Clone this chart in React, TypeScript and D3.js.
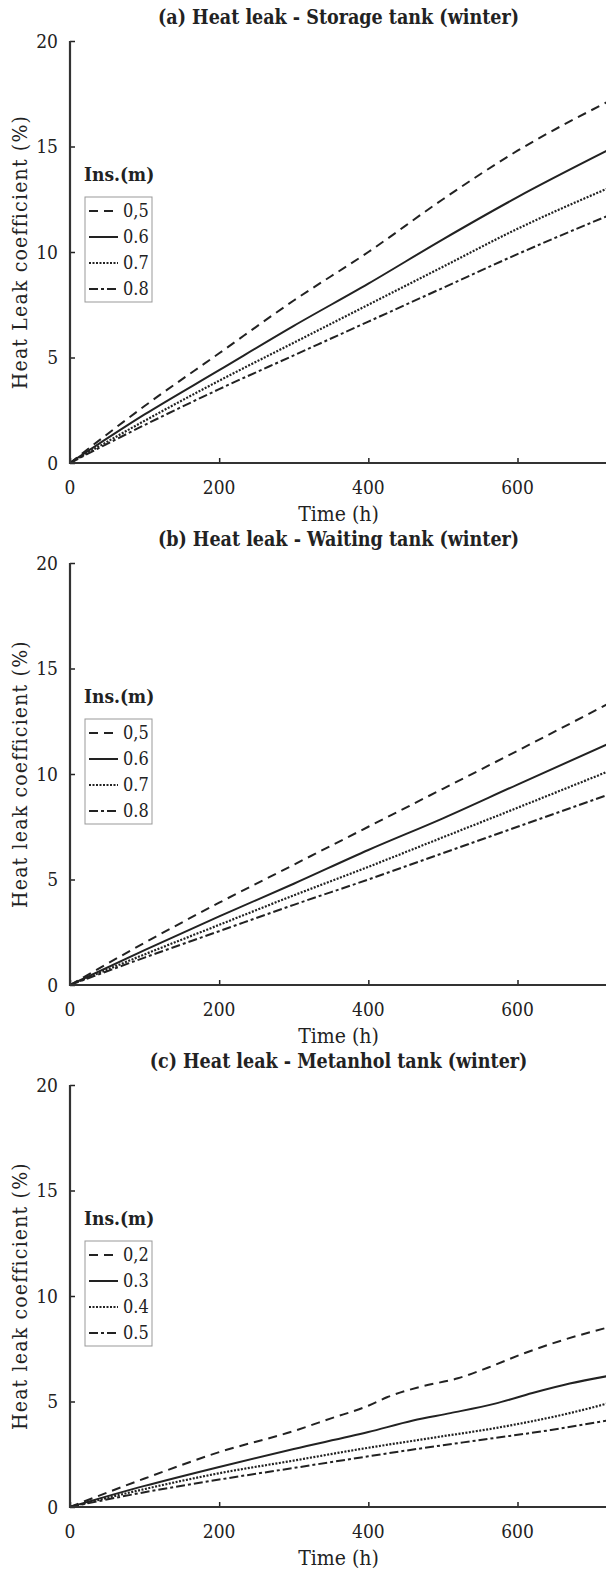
import { useEffect, useRef } from 'react';
import * as d3 from 'd3';

// ---- data ----
const xTicks = [0, 200, 400, 600];
const yTicks = [0, 5, 10, 15, 20];

const titles = [
  '(a) Heat leak - Storage tank (winter)',
  '(b) Heat leak - Waiting tank (winter)',
  '(c) Heat leak - Metanhol tank (winter)',
];
const yLabels = [
  'Heat Leak coefficient (%)',
  'Heat leak coefficient (%)',
  'Heat leak coefficient (%)',
];
const legendLabelsAB = ['0,5', '0.6', '0.7', '0.8'];
const legendLabelsC = ['0,2', '0.3', '0.4', '0.5'];

// panel (a) and (b): hours
const timeAB = [0, 100, 200, 300, 400, 500, 600, 720];
const storage05 = [0, 2.7, 5.2, 7.7, 10.0, 12.5, 14.8, 17.1];
const storage06 = [0, 2.3, 4.4, 6.5, 8.5, 10.6, 12.6, 14.8];
const storage07 = [0, 2.0, 3.9, 5.7, 7.5, 9.3, 11.1, 13.0];
const storage08 = [0, 1.8, 3.5, 5.1, 6.7, 8.3, 9.9, 11.7];

const waiting05 = [0, 2.0, 3.9, 5.7, 7.5, 9.3, 11.1, 13.3];
const waiting06 = [0, 1.65, 3.25, 4.8, 6.4, 7.9, 9.5, 11.4];
const waiting07 = [0, 1.45, 2.85, 4.25, 5.6, 7.0, 8.4, 10.1];
const waiting08 = [0, 1.3, 2.55, 3.8, 5.0, 6.25, 7.5, 9.0];

// panel (c)
const methT02 = [0, 100, 200, 300, 350, 400, 425, 470, 520, 560, 610, 660, 720];
const meth02 = [0, 1.35, 2.6, 3.6, 4.2, 4.8, 5.2, 5.7, 6.1, 6.6, 7.3, 7.9, 8.5];
const methT03 = [0, 100, 200, 300, 400, 460, 510, 570, 620, 670, 720];
const meth03 = [0, 1.0, 1.9, 2.75, 3.55, 4.1, 4.45, 4.9, 5.4, 5.85, 6.2];
const methT04 = [0, 100, 200, 300, 390, 490, 580, 670, 720];
const meth04 = [0, 0.85, 1.6, 2.2, 2.75, 3.3, 3.8, 4.45, 4.9];
const methT05 = [0, 100, 200, 300, 400, 465, 555, 645, 720];
const meth05 = [0, 0.7, 1.3, 1.85, 2.4, 2.75, 3.2, 3.65, 4.1];

const dashes = ['9,6', null, '2,1.5', '9,3,3,3'];

export default function App() {
  const svgRef = useRef(null);

  useEffect(() => {
    const svg = d3.select(svgRef.current);
    svg.selectAll('*').remove();

    const W = 606, H = 1570;
    svg.attr('width', W).attr('height', H);

    const left = 70, right = 607;
    const panelTop = [41, 563, 1085];
    const plotH = 422;
    const ink = '#222';
    const font = "'DejaVu Serif Condensed', 'DejaVu Serif', serif";

    const panels = [
      {
        legend: legendLabelsAB,
        series: [
          { t: timeAB, v: storage05 },
          { t: timeAB, v: storage06 },
          { t: timeAB, v: storage07 },
          { t: timeAB, v: storage08 },
        ],
      },
      {
        legend: legendLabelsAB,
        series: [
          { t: timeAB, v: waiting05 },
          { t: timeAB, v: waiting06 },
          { t: timeAB, v: waiting07 },
          { t: timeAB, v: waiting08 },
        ],
      },
      {
        legend: legendLabelsC,
        series: [
          { t: methT02, v: meth02 },
          { t: methT03, v: meth03 },
          { t: methT04, v: meth04 },
          { t: methT05, v: meth05 },
        ],
      },
    ];

    panels.forEach((p, i) => {
      const top = panelTop[i];
      const bottom = top + plotH;
      const x = d3.scaleLinear().domain([0, 720]).range([left, right]);
      const y = d3.scaleLinear().domain([0, 20]).range([bottom, top]);
      const g = svg.append('g');

      // title
      g.append('text')
        .attr('x', (left + right) / 2)
        .attr('y', top - 17)
        .attr('text-anchor', 'middle')
        .attr('font-family', font)
        .attr('font-weight', 'bold')
        .attr('font-size', 19.5)
        .attr('fill', ink)
        .text(titles[i]);

      // lines
      const line = d3.line()
        .x(d => x(d[0]))
        .y(d => y(d[1]))
        .curve(d3.curveMonotoneX);

      p.series.forEach((s, k) => {
        const pts = s.t.map((t, j) => [t, s.v[j]]);
        const path = g.append('path')
          .datum(pts)
          .attr('fill', 'none')
          .attr('stroke', ink)
          .attr('stroke-width', k === 2 ? 2.2 : 2)
          .attr('d', line);
        if (dashes[k]) path.attr('stroke-dasharray', dashes[k]);
      });

      // axes
      const yAxis = g.append('g')
        .attr('transform', `translate(${left},0)`)
        .call(d3.axisRight(y).tickValues(yTicks).tickSize(5).tickFormat(() => ''));
      yAxis.select('.domain').remove();
      yAxis.selectAll('line').attr('stroke', ink).attr('stroke-width', 1.5);

      const xAxis = g.append('g')
        .attr('transform', `translate(0,${bottom})`)
        .call(d3.axisTop(x).tickValues(xTicks).tickSize(5).tickFormat(() => ''));
      xAxis.select('.domain').remove();
      xAxis.selectAll('line').attr('stroke', ink).attr('stroke-width', 1.5);

      g.append('path')
        .attr('d', `M${left},${top}V${bottom}H${W}`)
        .attr('fill', 'none')
        .attr('stroke', '#333')
        .attr('stroke-width', 2.2);

      // tick labels
      yTicks.forEach(v => {
        g.append('text')
          .attr('x', left - 12)
          .attr('y', y(v))
          .attr('dy', '0.35em')
          .attr('text-anchor', 'end')
          .attr('font-family', font)
          .attr('font-size', 19)
          .attr('fill', ink)
          .text(v);
      });
      xTicks.forEach(v => {
        g.append('text')
          .attr('x', x(v))
          .attr('y', bottom + 24)
          .attr('dy', '0.35em')
          .attr('text-anchor', 'middle')
          .attr('font-family', font)
          .attr('font-size', 19)
          .attr('fill', ink)
          .text(v);
      });

      g.append('text')
        .attr('x', (left + right) / 2)
        .attr('y', bottom + 51)
        .attr('dy', '0.35em')
        .attr('text-anchor', 'middle')
        .attr('font-family', font)
        .attr('font-size', 21)
        .attr('fill', ink)
        .text('Time (h)');

      g.append('text')
        .attr('transform', `translate(20,${(top + bottom) / 2}) rotate(-90)`)
        .attr('dy', '0.35em')
        .attr('text-anchor', 'middle')
        .attr('font-family', font)
        .attr('font-size', 21)
        .attr('letter-spacing', 1.2)
        .attr('fill', ink)
        .text(yLabels[i]);

      // legend
      g.append('text')
        .attr('x', 84)
        .attr('y', top + 133)
        .attr('dy', '0.35em')
        .attr('font-family', font)
        .attr('font-weight', 'bold')
        .attr('font-size', 19)
        .attr('fill', ink)
        .text('Ins.(m)');

      const lg = g.append('g').attr('transform', `translate(85,${top + 156})`);
      lg.append('rect')
        .attr('width', 67).attr('height', 105)
        .attr('fill', 'white')
        .attr('stroke', '#999')
        .attr('stroke-width', 1);

      p.legend.forEach((lab, k) => {
        const yy = 14 + k * 26;
        const l = lg.append('line')
          .attr('x1', 4).attr('x2', 33)
          .attr('y1', yy).attr('y2', yy)
          .attr('stroke', ink)
          .attr('stroke-width', 2);
        if (dashes[k]) l.attr('stroke-dasharray', dashes[k]);
        lg.append('text')
          .attr('x', 38)
          .attr('y', yy)
          .attr('dy', '0.35em')
          .attr('font-family', font)
          .attr('font-size', 18)
          .attr('fill', ink)
          .text(lab);
      });
    });
  }, []);

  return (
    <div style={{ position: 'absolute', left: 0, top: 0 }}>
      <svg ref={svgRef}></svg>
    </div>
  );
}
